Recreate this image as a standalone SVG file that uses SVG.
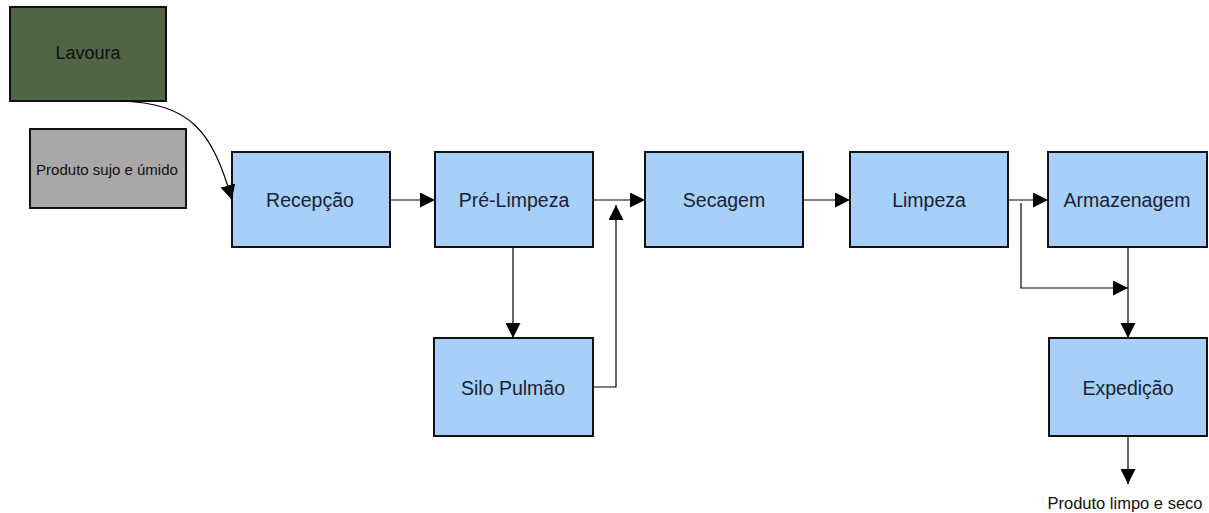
<svg xmlns="http://www.w3.org/2000/svg" width="1209" height="513" viewBox="0 0 1209 513">
<defs>
<marker id="ah" viewBox="0 0 10 10" refX="10" refY="5" markerWidth="15" markerHeight="15" markerUnits="userSpaceOnUse" orient="auto">
<path d="M0,0 L10,5 L0,10 Z" fill="#000"/>
</marker>
<style>
.box{fill:#a6cff9;stroke:#111;stroke-width:2}
.t{font-family:"Liberation Sans",Arial,sans-serif;font-size:19.5px;fill:#1a1f33;text-anchor:middle;dominant-baseline:central}
.s{font-size:15px;fill:#111}
.c{fill:none;stroke:#000;stroke-width:1.2}
</style>
</defs>
<rect width="1209" height="513" fill="#fff"/>
<g id="lavoura"><rect x="10" y="7" width="156" height="94" fill="#4f6545" stroke="#111" stroke-width="2"/><text class="t" x="88" y="53" style="font-size:18px;fill:#111">Lavoura</text></g>
<g id="produto-sujo"><rect x="30" y="129" width="156" height="79" fill="#a9a7a7" stroke="#111" stroke-width="2"/><text class="t s" x="107" y="169">Produto sujo e úmido</text></g>
<g id="recepcao"><rect class="box" x="232" y="152" width="158" height="95"/><text class="t" x="310" y="200">Recepção</text></g>
<g id="pre-limpeza"><rect class="box" x="435" y="152" width="158" height="95"/><text class="t" x="514" y="200">Pré-Limpeza</text></g>
<g id="secagem"><rect class="box" x="645" y="152" width="158" height="95"/><text class="t" x="724" y="200">Secagem</text></g>
<g id="limpeza"><rect class="box" x="850" y="152" width="158" height="95"/><text class="t" x="929" y="200">Limpeza</text></g>
<g id="armazenagem"><rect class="box" x="1048" y="152" width="159" height="95"/><text class="t" x="1127" y="200">Armazenagem</text></g>
<g id="silo-pulmao"><rect class="box" x="434" y="338" width="159" height="98"/><text class="t" x="513" y="388">Silo Pulmão</text></g>
<g id="expedicao"><rect class="box" x="1049" y="338" width="158" height="98"/><text class="t" x="1128" y="388">Expedição</text></g>
<g id="produto-limpo"><text class="t" x="1125" y="503" style="font-size:16.5px;fill:#111">Produto limpo e seco</text></g>
<g id="connectors">
<path class="c" d="M120,101 C190,103 212,130 232,200" marker-end="url(#ah)"/>
<path class="c" d="M390,200 H435" marker-end="url(#ah)"/>
<path class="c" d="M593,200 H645" marker-end="url(#ah)"/>
<path class="c" d="M513,247 V338" marker-end="url(#ah)"/>
<path class="c" d="M593,387 H616 V205" marker-end="url(#ah)"/>
<path class="c" d="M803,200 H850" marker-end="url(#ah)"/>
<path class="c" d="M1008,200 H1048" marker-end="url(#ah)"/>
<path class="c" d="M1021,203 V288 H1128" marker-end="url(#ah)"/>
<path class="c" d="M1128,247 V338" marker-end="url(#ah)"/>
<path class="c" d="M1128,436 V484" marker-end="url(#ah)"/>
</g>
</svg>
